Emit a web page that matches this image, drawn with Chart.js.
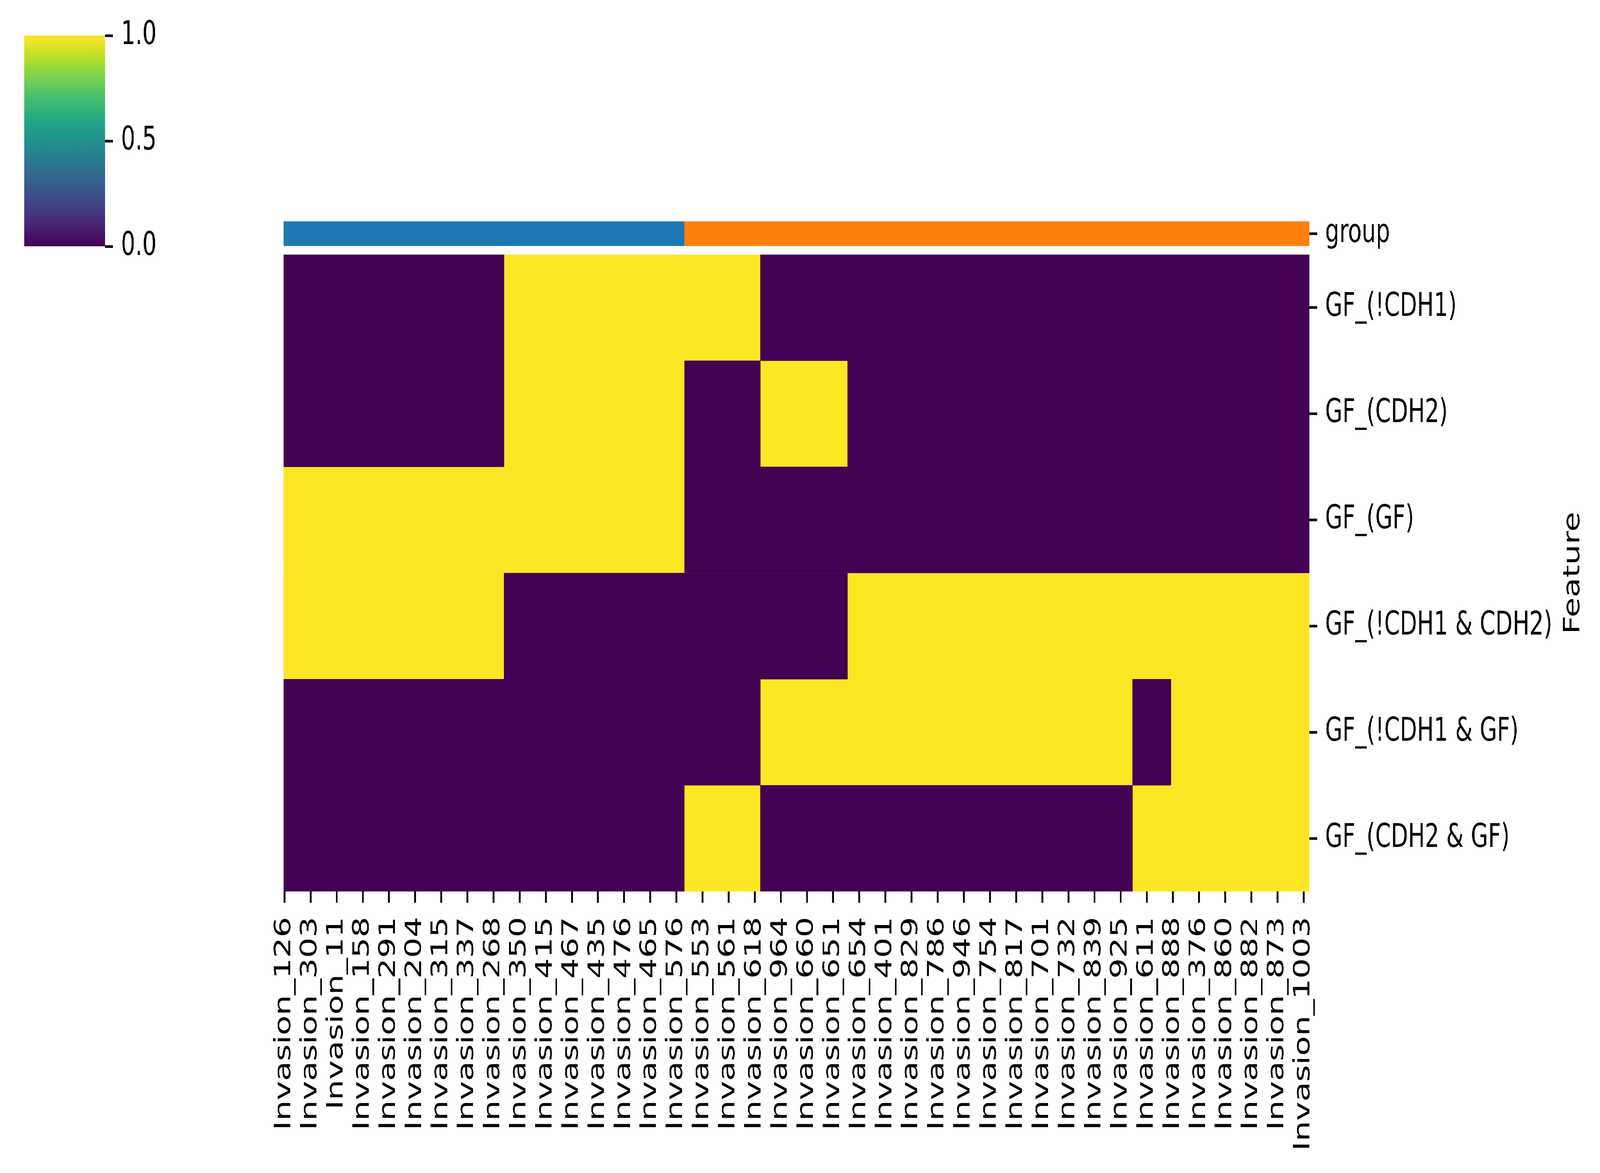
<!DOCTYPE html>
<html>
<head>
<meta charset="utf-8">
<script src="https://cdn.jsdelivr.net/npm/chart.js@4.4.1/dist/chart.umd.min.js"></script>
<style>
  html, body { margin: 0; padding: 0; background: #fff; overflow: hidden; width: 100%; height: 100%; }
  #stage { position: absolute; left: 0; top: 0; width: 5937px; height: 3004px; transform-origin: 0 0; }
  canvas { position: absolute; }
</style>
</head>
<body>
<div id="stage">
  <canvas id="colorbar" width="700" height="720" style="left:0;top:0;width:700px;height:720px"></canvas>
  <canvas id="groupbar" width="5237" height="263" style="left:700px;top:467px;width:5237px;height:263px"></canvas>
  <canvas id="heatmap" width="5237" height="2452" style="left:700px;top:552px;width:5237px;height:2452px"></canvas>
</div>
<script>
// --- данные ---
const sampleCount = 824;          // число столбцов (образцов)
const labelStep = 21;             // подписан каждый 21-й образец
const sampleLabels = [
  'Invasion_126', 'Invasion_303', 'Invasion_11', 'Invasion_158', 'Invasion_291',
  'Invasion_204', 'Invasion_315', 'Invasion_337', 'Invasion_268', 'Invasion_350',
  'Invasion_415', 'Invasion_467', 'Invasion_435', 'Invasion_476', 'Invasion_465',
  'Invasion_576', 'Invasion_553', 'Invasion_561', 'Invasion_618', 'Invasion_964',
  'Invasion_660', 'Invasion_651', 'Invasion_654', 'Invasion_401', 'Invasion_829',
  'Invasion_786', 'Invasion_946', 'Invasion_754', 'Invasion_817', 'Invasion_701',
  'Invasion_732', 'Invasion_839', 'Invasion_925', 'Invasion_611', 'Invasion_888',
  'Invasion_376', 'Invasion_860', 'Invasion_882', 'Invasion_873', 'Invasion_1003'
];
const features = ['GF_(!CDH1)', 'GF_(CDH2)', 'GF_(GF)', 'GF_(!CDH1 & CDH2)', 'GF_(!CDH1 & GF)', 'GF_(CDH2 & GF)'];
// значение первого столбца в каждой строке и столбцы, где значение меняется 0 <-> 1
const rowStartValue = [0, 0, 1, 1, 0, 0];
const rowBreaks = [
  [177, 383],
  [177, 322, 383, 453],
  [322],
  [177, 453],
  [383, 682, 713],
  [322, 383, 682]
];
const groupBreaks = [0, 322, 824];
const groupColors = ['#1f77b4', '#ff7f0e'];
const colorbarTicks = [0, 0.5, 1];

const viridis = ['#440154', '#482475', '#414487', '#355f8d', '#2a788e', '#21918c',
                 '#22a884', '#44bf70', '#7ad151', '#bddf26', '#fde725'];

// сцена нарисована в пикселях эталона 5937x3004 и растянута на всё окно
const stage = document.getElementById('stage');
stage.style.transform = `scale(${window.innerWidth / 5937}, ${window.innerHeight / 3004})`;

Chart.defaults.font.family = "'DejaVu Sans', sans-serif";
Chart.defaults.font.size = 83;
Chart.defaults.color = '#000';
Chart.defaults.animation = false;
Chart.defaults.devicePixelRatio = 1;
Chart.defaults.plugins.legend.display = false;
Chart.defaults.plugins.tooltip.enabled = false;

// строки -> отрезки по значению
const segments = { 0: [], 1: [] };
features.forEach((name, r) => {
  const edges = [0, ...rowBreaks[r], sampleCount];
  let v = rowStartValue[r];
  for (let i = 0; i < edges.length - 1; i++) {
    segments[v].push({ x: [edges[i], edges[i + 1]], y: name });
    v = 1 - v;
  }
});

const tickGrid = { display: true, offset: false, drawOnChartArea: false, drawTicks: true,
                   tickLength: 29, tickWidth: 6.7, tickColor: '#000' };

// --- 1. ТЕПЛОВАЯ КАРТА ---
new Chart(document.getElementById('heatmap'), {
  type: 'bar',
  data: {
    labels: features,
    datasets: [
      { label: '0', data: segments[0], backgroundColor: viridis[0] },
      { label: '1', data: segments[1], backgroundColor: viridis[10] }
    ]
  },
  options: {
    responsive: false,
    indexAxis: 'y',
    grouped: false,
    barPercentage: 1,
    categoryPercentage: 1,
    borderWidth: 0,
    layout: { padding: { left: 353, top: 100, right: 0, bottom: 0 } },
    scales: {
      x: {
        type: 'linear', min: 0, max: sampleCount,
        grid: tickGrid,
        border: { display: false },
        afterBuildTicks: (scale) => {
          scale.ticks = sampleLabels.map((_, i) => ({ value: i * labelStep + 0.5 }));
        },
        afterFit: (scale) => { scale.height = 721; },
        ticks: {
          autoSkip: false, minRotation: 90, maxRotation: 90, padding: 36,
          callback: (v, i) => sampleLabels[i]
        }
      },
      y: {
        type: 'category', position: 'right',
        grid: tickGrid,
        border: { display: false },
        afterFit: (scale) => { scale.width = 1079; },
        ticks: { padding: 30 }
      }
    }
  },
  plugins: [{
    id: 'featureTitle',
    afterDraw(chart) {
      const { ctx, chartArea } = chart;
      ctx.save();
      ctx.translate(chartArea.right + 980, (chartArea.top + chartArea.bottom) / 2);
      ctx.rotate(-Math.PI / 2);
      ctx.font = "83px 'DejaVu Sans', sans-serif";
      ctx.fillStyle = '#000';
      ctx.textAlign = 'center';
      ctx.textBaseline = 'middle';
      ctx.fillText('Feature', 0, 0);
      ctx.restore();
    }
  }]
});

// --- 2. ПОЛОСА ГРУПП ---
new Chart(document.getElementById('groupbar'), {
  type: 'bar',
  data: {
    labels: ['group'],
    datasets: [{
      data: groupColors.map((_, i) => ({ x: [groupBreaks[i], groupBreaks[i + 1]], y: 'group' })),
      backgroundColor: groupColors
    }]
  },
  options: {
    responsive: false,
    indexAxis: 'y',
    barPercentage: 1,
    categoryPercentage: 1,
    borderWidth: 0,
    layout: { padding: { left: 353, top: 100, right: 0, bottom: 100 } },
    scales: {
      x: { type: 'linear', min: 0, max: sampleCount, display: false },
      y: {
        type: 'category', position: 'right',
        grid: tickGrid,
        border: { display: false },
        afterFit: (scale) => { scale.width = 1079; },
        ticks: { padding: 30 }
      }
    }
  }
});

// --- 3. ЦВЕТОВАЯ ШКАЛА ---
new Chart(document.getElementById('colorbar'), {
  type: 'bar',
  data: {
    labels: ['cb'],
    datasets: [{
      data: [[colorbarTicks[0], colorbarTicks[colorbarTicks.length - 1]]],
      backgroundColor: (c) => {
        const area = c.chart.chartArea;
        if (!area) return viridis[0];
        const g = c.chart.ctx.createLinearGradient(0, area.bottom, 0, area.top);
        viridis.forEach((col, i) => g.addColorStop(i / (viridis.length - 1), col));
        return g;
      }
    }]
  },
  options: {
    responsive: false,
    barPercentage: 1,
    categoryPercentage: 1,
    borderWidth: 0,
    layout: { padding: { left: 90, top: 91, right: 0, bottom: 89 } },
    scales: {
      x: { display: false },
      y: {
        type: 'linear', position: 'right', min: 0, max: 1,
        grid: tickGrid,
        border: { display: false },
        afterBuildTicks: (scale) => { scale.ticks = colorbarTicks.map(v => ({ value: v })); },
        afterFit: (scale) => { scale.width = 310; },
        ticks: { padding: 30, callback: (v) => v.toFixed(1) }
      }
    }
  }
});
</script>
</body>
</html>
